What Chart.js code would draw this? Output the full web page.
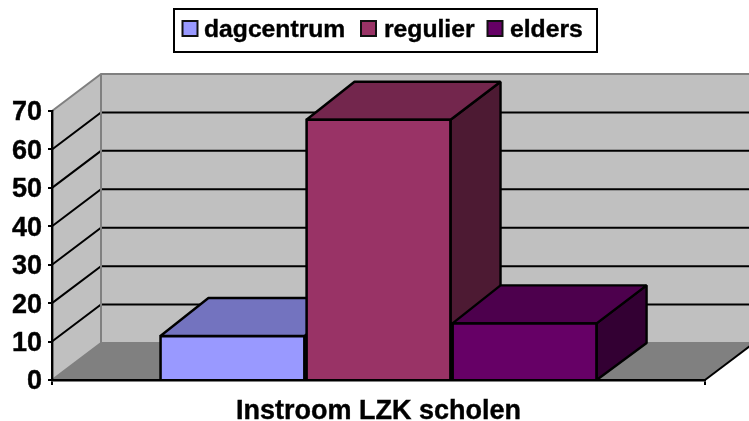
<!DOCTYPE html>
<html><head><meta charset="utf-8">
<style>html,body{margin:0;padding:0;background:#fff}canvas{display:block}</style>
<script src="https://cdn.jsdelivr.net/npm/chart.js@4"></script>
</head><body>
<div style="width:749px;height:421px;position:relative"><canvas id="c" width="749" height="421"></canvas></div>
<script>
const categories = ["Instroom LZK scholen"];
const seriesNames = ["dagcentrum", "regulier", "elders"];
const dagcentrum = [11.7];
const regulier = [68];
const elders = [15];
const seriesColors = ["#9999FF", "#993366", "#660066"];
const topColors = ["#7373BF", "#73264D", "#4D004D"];
const sideColors = ["#4D4D80", "#4D1A33", "#330033"];
const wallColor = "#C0C0C0", floorColor = "#808080", edgeColor = "#808080";
const yMax = 70, yStep = 10;
const DX = 49, DY = 37;
const FONT = '"Liberation Sans", Arial, sans-serif';

function poly(ctx, pts, fill, stroke, lw) {
  ctx.beginPath();
  pts.forEach((p, i) => i ? ctx.lineTo(p[0], p[1]) : ctx.moveTo(p[0], p[1]));
  ctx.closePath();
  if (fill) { ctx.fillStyle = fill; ctx.fill(); }
  if (stroke) { ctx.strokeStyle = stroke; ctx.lineWidth = lw || 2; ctx.lineJoin = 'bevel'; ctx.stroke(); }
}
function line(ctx, pts, color, lw) {
  ctx.beginPath();
  pts.forEach((p, i) => i ? ctx.lineTo(p[0], p[1]) : ctx.moveTo(p[0], p[1]));
  ctx.strokeStyle = color; ctx.lineWidth = lw; ctx.stroke();
}
const box3d = {
  id: 'box3d',
  beforeDraw(chart) {
    const { ctx, chartArea: a, scales: { y, x } } = chart;
    const l = a.left, r = a.right, b = y.getPixelForValue(0), t = y.getPixelForValue(yMax);
    ctx.save();
    poly(ctx, [[l + DX, b - DY], [r + DX, b - DY], [r + DX, t - DY], [l + DX, t - DY]], wallColor);
    poly(ctx, [[l, b], [l + DX, b - DY], [l + DX, t - DY], [l, t]], wallColor);
    poly(ctx, [[l, b], [r, b], [r + DX, b - DY], [l + DX, b - DY]], floorColor);
    for (let v = yStep; v < yMax; v += yStep) {
      const p = y.getPixelForValue(v);
      line(ctx, [[l, p], [l + DX, p - DY], [r + DX, p - DY]], '#000', 2);
    }
    line(ctx, [[l, t], [l + DX, t - DY], [r + DX, t - DY]], edgeColor, 2);
    line(ctx, [[l, b], [l + DX, b - DY], [l + DX, t - DY]], edgeColor, 2);
    line(ctx, [[l + DX, b - DY], [r + DX, b - DY]], edgeColor, 2);
    line(ctx, [[r, b], [r + DX, b - DY]], '#000', 2);
    ctx.restore();
    // digits sit slightly lower than the canvas 'middle' baseline
    y.getLabelItems(a).forEach(it => { if (!it.nudged) { it.textOffset += 2; it.nudged = true; } });
  },
  beforeDatasetsDraw(chart) {
    const { ctx, scales: { y } } = chart;
    const b = y.getPixelForValue(0);
    ctx.save();
    chart.data.datasets.forEach((ds, i) => {
      const el = chart.getDatasetMeta(i).data[0];
      const L = el.x - el.width / 2, R = el.x + el.width / 2, T = el.y;
      poly(ctx, [[R - 1, T + 1], [R - 1, b], [R + DX, b - DY], [R + DX, T - DY]], sideColors[i], '#000', 2.4);
      poly(ctx, [[L + 1, T + 1], [R - 1, T + 1], [R + DX, T - DY], [L + DX, T - DY]], topColors[i], '#000', 2.4);
    });
    chart.data.datasets.forEach((ds, i) => {
      const el = chart.getDatasetMeta(i).data[0];
      ctx.fillStyle = '#000';
      ctx.fillRect(el.x - el.width / 2, el.y, el.width, b - el.y);
    });
    ctx.restore();
  },
  afterDraw(chart) {
    const { ctx } = chart;
    ctx.save();
    ctx.strokeStyle = '#000'; ctx.lineWidth = 2;
    ctx.strokeRect(174, 9, 423, 43);
    const sw = [182.5, 361, 487.5], tx = [204, 384, 510];
    ctx.font = 'bold 24.7px ' + FONT;
    ctx.textBaseline = 'alphabetic'; ctx.textAlign = 'left';
    seriesNames.forEach((n, i) => {
      ctx.fillStyle = seriesColors[i];
      ctx.fillRect(sw[i], 21, 15, 15);
      ctx.strokeStyle = '#111'; ctx.lineWidth = 2;
      ctx.strokeRect(sw[i], 21, 15, 15);
      ctx.fillStyle = '#000';
      ctx.strokeStyle = '#000'; ctx.lineWidth = 0.4;
      ctx.fillText(n, tx[i], 37);
      ctx.strokeText(n, tx[i], 37);
    });
    ctx.restore();
  }
};
const datasetValues = [dagcentrum, regulier, elders];
new Chart(document.getElementById('c'), {
  type: 'bar',
  plugins: [box3d],
  data: {
    labels: categories,
    datasets: seriesNames.map((n, i) => ({
      label: n, data: datasetValues[i],
      backgroundColor: seriesColors[i],
      borderColor: '#000', borderWidth: 2.4,
      categoryPercentage: 0.671, barPercentage: 1
    }))
  },
  options: {
    responsive: false, animation: false,
    layout: { padding: { left: 0, top: 111, right: 44, bottom: 0 } },
    plugins: { legend: { display: false }, tooltip: { enabled: false }, title: { display: false } },
    scales: {
      x: {
        afterFit(s) { s.height = 41; },
        grid: { offset: true, drawOnChartArea: false, drawTicks: true, tickLength: 5, color: '#000', lineWidth: 2 },
        border: { display: true, color: '#000', width: 2.4 },
        ticks: { color: '#000', font: { family: FONT, size: 27, weight: 'bold' }, padding: 10, maxRotation: 0, textStrokeColor: '#000', textStrokeWidth: 0.4 }
      },
      y: {
        min: 0, max: yMax,
        afterFit(s) { s.width = 52; },
        grid: { drawOnChartArea: false, drawTicks: true, tickLength: 4, color: '#000', lineWidth: 2 },
        border: { display: true, color: '#000', width: 2.4 },
        ticks: { stepSize: yStep, color: '#000', font: { family: FONT, size: 27, weight: 'bold' }, padding: 6, textStrokeColor: '#000', textStrokeWidth: 0.4 }
      }
    }
  }
});
</script>
</body></html>
